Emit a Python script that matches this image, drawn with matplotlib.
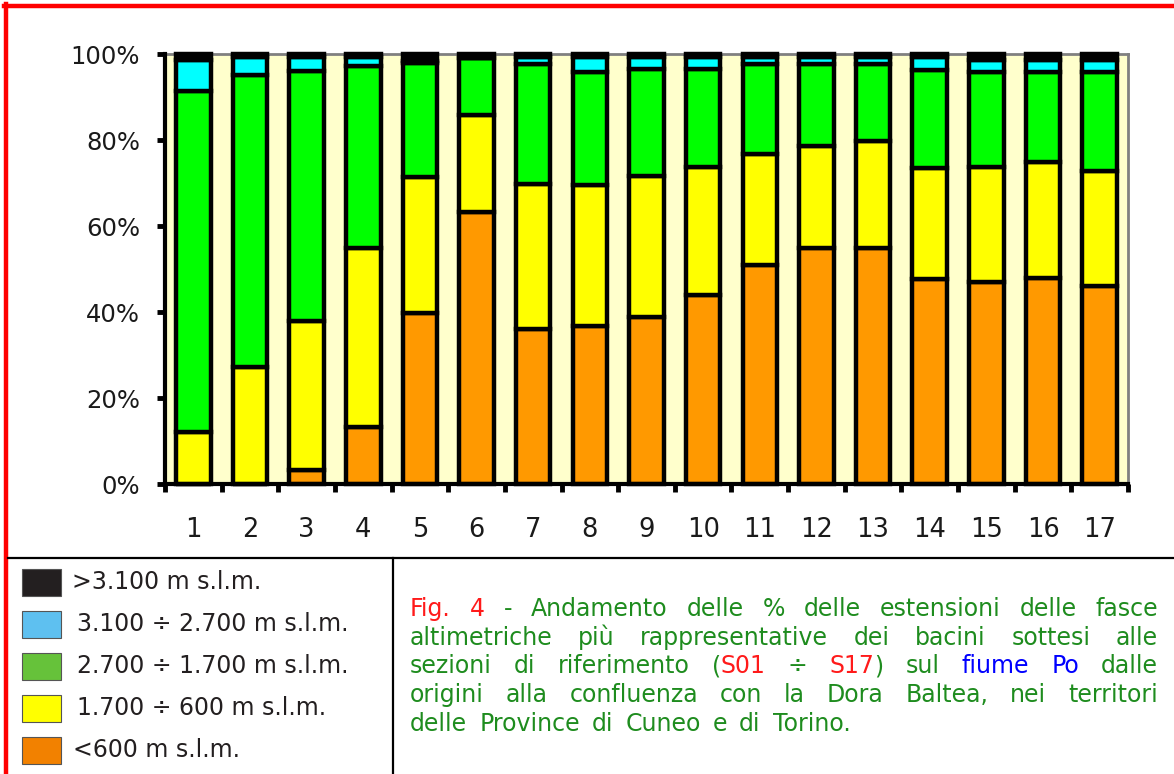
import matplotlib
matplotlib.use("Agg")
import matplotlib.pyplot as plt
from matplotlib.patches import Rectangle
from matplotlib.lines import Line2D
import numpy as np

# ---------------- data ----------------
categories = [str(i) for i in range(1, 18)]
below_600 = [0, 0, 3.3, 13.2, 39.8, 63.3, 36.0, 36.7, 38.8, 44.0, 50.9, 54.8, 54.8, 47.7, 47.0, 48.0, 46.0]
band_1700_600 = [12.0, 27.2, 34.6, 41.7, 31.7, 22.5, 33.8, 32.9, 32.9, 29.8, 25.8, 23.9, 25.0, 25.8, 26.8, 26.8, 26.9]
band_2700_1700 = [79.4, 67.9, 58.2, 42.3, 26.5, 13.2, 27.9, 26.1, 24.7, 22.6, 21.0, 19.0, 17.9, 22.8, 22.1, 21.1, 23.0]
band_3100_2700 = [7.2, 4.1, 3.1, 2.2, 0.4, 0.0, 1.5, 3.7, 3.0, 3.0, 1.5, 1.5, 1.5, 2.9, 2.7, 2.7, 2.7]
above_3100 = [1.4, 0.8, 0.8, 0.6, 1.6, 1.0, 0.8, 0.6, 0.6, 0.6, 0.8, 0.8, 0.8, 0.8, 1.4, 1.4, 1.4]

ytick_values = [0, 20, 40, 60, 80, 100]
ytick_labels = ["0%", "20%", "40%", "60%", "80%", "100%"]

bar_colors = ["#FF9900", "#FFFF00", "#00FF00", "#00FFFF", "#000000"]

legend_labels = [">3.100 m s.l.m.", "3.100 \u00f7 2.700 m s.l.m.", "2.700 \u00f7 1.700 m s.l.m.",
                 "1.700 \u00f7 600 m s.l.m.", "<600 m s.l.m."]
legend_colors = ["#231F20", "#5EC0F0", "#66C23A", "#FFFF00", "#F28100"]

RED, GREEN, BLUE = "#FF1A1A", "#1E8C1E", "#0000FF"
caption_lines = [
    [("Fig. 4", RED), (" - Andamento delle % delle estensioni delle fasce", GREEN)],
    [("altimetriche pi\u00f9 rappresentative dei bacini sottesi alle", GREEN)],
    [("sezioni di riferimento (", GREEN), ("S01", RED), (" \u00f7 ", GREEN), ("S17", RED),
     (") sul ", GREEN), ("fiume Po", BLUE), (" dalle", GREEN)],
    [("origini alla confluenza con la Dora Baltea, nei territori", GREEN)],
    [("delle Province di Cuneo e di Torino.", GREEN)],
]

# ---------------- figure ----------------
W, H = 1174, 774
fig = plt.figure(figsize=(W / 100, H / 100), dpi=100)
fig.patch.set_facecolor("white")


def fx(px):
    return px / W


def fy(py):
    return 1 - py / H


ax = fig.add_axes([fx(165), fy(484), fx(1128) - fx(165), fy(54) - fy(484)])
ax.set_facecolor("#FFFFCC")

x = np.arange(1, len(categories) + 1)
bottom = np.zeros(len(categories))
for vals, col in zip([below_600, band_1700_600, band_2700_1700, band_3100_2700, above_3100], bar_colors):
    v = np.array(vals, dtype=float)
    ax.bar(x, v, width=0.61, bottom=bottom, color=col, edgecolor="black",
           linewidth=3.2, clip_on=False, zorder=3)
    bottom += v

ax.set_xlim(0.5, len(categories) + 0.5)
ax.set_ylim(0, 100)
ax.set_yticks(ytick_values)
ax.set_yticklabels(ytick_labels)
ax.set_xticks(x)
ax.set_xticklabels(categories)
ax.set_xticks(np.arange(0.5, len(categories) + 1, 1), minor=True)
ax.tick_params(axis="x", which="major", length=0, pad=24, labelsize=18.5, labelcolor="#1a1a1a")
ax.tick_params(axis="x", which="minor", length=6, width=3.5, direction="out", color="black")
ax.tick_params(axis="y", which="major", length=6, width=3.5, pad=12, labelsize=17.5,
               labelcolor="#1a1a1a", color="black")

for s in ["left", "bottom"]:
    ax.spines[s].set_color("black")
    ax.spines[s].set_linewidth(3)
    ax.spines[s].set_zorder(4)
for s in ["top", "right"]:
    ax.spines[s].set_color("#808080")
    ax.spines[s].set_linewidth(2)

# ---------------- frame lines ----------------
fig.add_artist(Line2D([fx(4), fx(1174)], [fy(6), fy(6)], color="#FF0000", lw=3.2))
fig.add_artist(Line2D([fx(6), fx(6)], [fy(4), fy(774)], color="#FF0000", lw=3.2))
fig.add_artist(Line2D([fx(8), fx(1174)], [fy(558), fy(558)], color="black", lw=1.6))
fig.add_artist(Line2D([fx(393), fx(393)], [fy(558), fy(774)], color="black", lw=1.6))

# ---------------- legend ----------------
row_centers = [582, 624, 666, 708, 750]
text_x = [72, 77, 77, 77, 73]
for yc, lab, col, tx in zip(row_centers, legend_labels, legend_colors, text_x):
    fig.add_artist(Rectangle((fx(22), fy(yc + 13.5)), fx(39), fy(0) - fy(27),
                             transform=fig.transFigure, facecolor=col,
                             edgecolor="#555555", lw=0.8))
    fig.text(fx(tx), fy(yc), lab, fontsize=17, color="#231F20", va="center", ha="left")

# ---------------- caption (justified) ----------------
cap_fs = 17
fig.canvas.draw()
renderer = fig.canvas.get_renderer()


def text_width(s):
    t = fig.text(0, 0, s, fontsize=cap_fs)
    w = t.get_window_extent(renderer).width
    t.remove()
    return w


space_w = text_width("x x") - text_width("xx")
x_left, x_right = 410, 1158
baselines = [616, 644.7, 673.4, 702, 730.8]

for li, (chunks, base) in enumerate(zip(caption_lines, baselines)):
    words = []
    new_word = True
    for txt, col in chunks:
        parts = txt.split(" ")
        for i, p in enumerate(parts):
            if i > 0:
                new_word = True
            if p == "":
                continue
            if new_word or not words:
                words.append([(p, col)])
                new_word = False
            else:
                words[-1].append((p, col))
    widths = [[text_width(p) for p, _ in w] for w in words]
    totals = [sum(w) for w in widths]
    if li < len(caption_lines) - 1 and len(words) > 1:
        gap = (x_right - x_left - sum(totals)) / (len(words) - 1)
    else:
        gap = space_w * 1.6
    cx = x_left
    for w, ws, tot in zip(words, widths, totals):
        px = cx
        for (p, col), pw in zip(w, ws):
            fig.text(fx(px), fy(base), p, fontsize=cap_fs, color=col, va="baseline", ha="left")
            px += pw
        cx += tot + gap

fig.savefig("out.png", dpi=100)
